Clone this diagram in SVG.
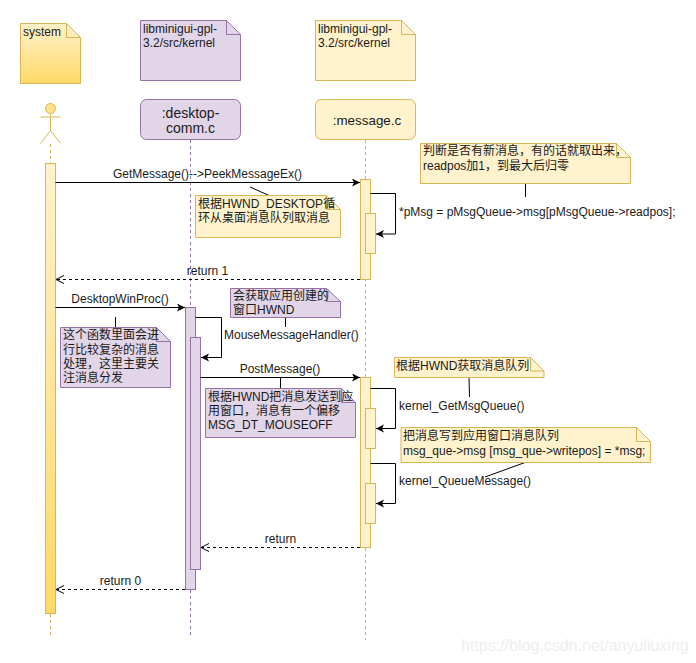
<svg xmlns="http://www.w3.org/2000/svg" width="696" height="663" viewBox="0 0 696 663">
<style>
text{font-family:"Liberation Sans","Noto Sans CJK SC",sans-serif;font-size:12px;fill:#1a1a1a}
.y{fill:#fff2cc;stroke:#d6b656}
.p{fill:#e1d5e7;stroke:#9673a6}
.g{fill:url(#grad);stroke:#d6b656}
.fy{fill:none;stroke:#d6b656}
.fp{fill:none;stroke:#9673a6}
.ly{stroke:#d6b656;stroke-dasharray:3 3;fill:none}
.lp{stroke:#9673a6;stroke-dasharray:3 3;fill:none}
.m{stroke:#000;fill:none}
.mf{stroke:#000;fill:none;marker-end:url(#solid)}
.r{stroke:#000;fill:none;stroke-dasharray:3 3;marker-end:url(#open)}
.big{font-size:14px;text-anchor:middle}
.mid{text-anchor:middle}
</style>
<defs>
<linearGradient id="grad" x1="0" y1="0" x2="0" y2="1"><stop offset="0" stop-color="#fff2cc"/><stop offset="1" stop-color="#ffd966"/></linearGradient>
<marker id="solid" markerUnits="userSpaceOnUse" markerWidth="9" markerHeight="9" refX="8" refY="4" orient="auto"><path d="M0 0L8 4L0 8L2 4Z" fill="#000"/></marker>
<marker id="open" markerUnits="userSpaceOnUse" markerWidth="11" markerHeight="11" refX="9" refY="5" orient="auto"><path d="M1 1L9 5L1 9" fill="none" stroke="#000"/></marker>
</defs>
<rect width="696" height="663" fill="#fff"/>

<g id="lifelines">
<path class="ly" d="M50.5 144V163"/><path class="ly" d="M50.5 614V638"/>
<path class="lp" d="M190.5 140V635"/>
<path class="ly" d="M365.5 140V640"/>
</g>

<g id="note-system"><path class="g" d="M20.5 23.5H66.5L80.5 37.5V83.5H20.5Z"/><path class="fy" d="M66.5 23.5V37.5H80.5"/><text x="23" y="36">system</text></g>
<g id="note-desktop-path"><path class="p" d="M140.5 20.5H226.5L240.5 34.5V80.5H140.5Z"/><path class="fp" d="M226.5 20.5V34.5H240.5"/><text x="143" y="33">libminigui-gpl-</text><text x="143" y="47">3.2/src/kernel</text></g>
<g id="note-message-path"><path class="y" d="M315.5 20.5H401.5L415.5 34.5V80.5H315.5Z"/><path class="fy" d="M401.5 20.5V34.5H415.5"/><text x="318" y="33">libminigui-gpl-</text><text x="318" y="47">3.2/src/kernel</text></g>

<g id="actor-system" fill="none" stroke="#d6b656">
<circle cx="50.5" cy="108.5" r="5" fill="#ffe08a"/>
<path d="M50.5 113.5V130.5M40.5 117H60.5M50.5 130.5L40.5 143.5M50.5 130.5L60.5 143.5"/>
</g>
<g id="desktop-comm"><rect class="p" x="140.5" y="99.5" width="100" height="40" rx="6"/><text class="big" x="190.5" y="118">:desktop-</text><text class="big" x="190.5" y="133">comm.c</text></g>
<g id="message-c"><rect class="y" x="315.5" y="99.5" width="100" height="40" rx="6"/><text class="big" x="367" y="125" style="font-size:13.4px">:message.c</text></g>

<g id="act-system"><rect class="g" x="45.5" y="163.5" width="10" height="450"/></g>
<g id="act-message-1"><rect class="y" x="360.5" y="179.5" width="10" height="100"/><rect class="y" x="365.5" y="213.5" width="10" height="40"/></g>
<g id="act-desktop"><rect class="p" x="185.5" y="307.5" width="10" height="282"/><rect class="p" x="190.5" y="337.5" width="10" height="232"/></g>
<g id="act-message-2"><rect class="y" x="360.5" y="377.5" width="10" height="170"/><rect class="y" x="365.5" y="408.5" width="10" height="40"/><rect class="y" x="365.5" y="483.5" width="10" height="40"/></g>

<g id="connectors">
<path class="mf" d="M55.5 182.5H360"/>
<path class="mf" d="M370.5 193.5H395.5V234H376"/>
<path class="r" d="M360 279.5H56"/>
<path class="mf" d="M55.5 307.5H185"/>
<path class="mf" d="M195.5 317.5H221.5V357.5H201"/>
<path class="mf" d="M200.5 377.5H360"/>
<path class="mf" d="M370.5 388.5H395.5V428.5H376"/>
<path class="mf" d="M370.5 463.5H395.5V503.5H376"/>
<path class="r" d="M360 547.5H201"/>
<path class="r" d="M185 589.5H56"/>
<path class="m" d="M525.5 183.5V197M250 187L269 195.5M115.5 317V327.5M285.5 317.5V327M280.5 378V388M469 377.5L469.5 397M525 462.5L485 477"/>
</g>

<g id="labels">
<text class="mid" x="207.5" y="178">GetMessage()--&gt;PeekMessageEx()</text>
<text x="399" y="216">*pMsg = pMsgQueue-&gt;msg[pMsgQueue-&gt;readpos];</text>
<text class="mid" x="207.5" y="275">return 1</text>
<text class="mid" x="120" y="303">DesktopWinProc()</text>
<text x="224" y="339">MouseMessageHandler()</text>
<text class="mid" x="280" y="373">PostMessage()</text>
<text x="399" y="410">kernel_GetMsgQueue()</text>
<text x="399" y="485">kernel_QueueMessage()</text>
<text class="mid" x="280.5" y="543">return</text>
<text class="mid" x="120.5" y="585">return 0</text>
</g>

<g id="note-readpos"><path class="y" d="M420.5 143.5H616.5L630.5 157.5V183.5H420.5Z"/><path class="fy" d="M616.5 143.5V157.5H630.5"/><text x="423" y="155">判断是否有新消息，有的话就取出来，</text><text x="423" y="170">readpos加1，到最大后归零</text></g>
<g id="note-hwnd-desktop"><path class="y" d="M195.5 195.5H326.5L340.5 209.5V237.5H195.5Z"/><path class="fy" d="M326.5 195.5V209.5H340.5"/><text x="198" y="208">根据HWND_DESKTOP循</text><text x="198" y="222">环从桌面消息队列取消息</text></g>
<g id="note-complex"><path class="p" d="M60.5 327.5H156.5L170.5 341.5V387.5H60.5Z"/><path class="fp" d="M156.5 327.5V341.5H170.5"/><text x="63" y="339">这个函数里面会进</text><text x="63" y="354">行比较复杂的消息</text><text x="63" y="368">处理，这里主要关</text><text x="63" y="382">注消息分发</text></g>
<g id="note-get-hwnd"><path class="p" d="M230.5 288.5H326.5L340.5 301.5V317.5H230.5Z"/><path class="fp" d="M326.5 288.5V301.5H340.5"/><text x="233" y="300">会获取应用创建的</text><text x="233" y="314">窗口HWND</text></g>
<g id="note-post"><path class="p" d="M205.5 388.5H341.5L355.5 402.5V437.5H205.5Z"/><path class="fp" d="M341.5 388.5V402.5H355.5"/><text x="208" y="401">根据HWND把消息发送到应</text><text x="208" y="415">用窗口，消息有一个偏移</text><text x="208" y="429">MSG_DT_MOUSEOFF</text></g>
<g id="note-get-queue"><path class="y" d="M394.5 357.5H530.5L544 371V377.5H394.5Z"/><path class="fy" d="M530.5 357.5V371H544"/><text x="396" y="370">根据HWND获取消息队列</text></g>
<g id="note-write"><path class="y" d="M401 427.5H636.5L650.5 441.5V462.5H401Z"/><path class="fy" d="M636.5 427.5V441.5H650.5"/><text x="403" y="440">把消息写到应用窗口消息队列</text><text x="403" y="455">msg_que-&gt;msg [msg_que-&gt;writepos] = *msg;</text></g>

<text x="461" y="651" style="font-size:16px;fill:#eeeeee">https://blog.csdn.net/anyuliuxing</text>
</svg>
